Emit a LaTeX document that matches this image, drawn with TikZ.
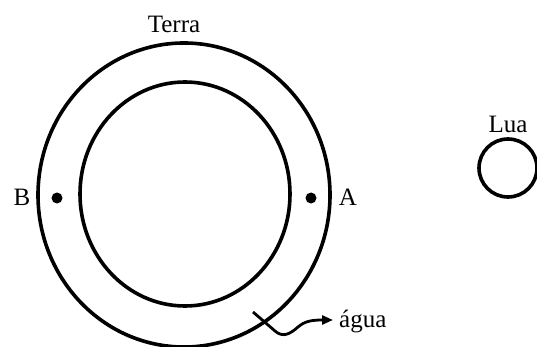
\documentclass[tikz,border=0pt]{standalone}
\usepackage{fontspec}
\setmainfont{Liberation Serif}
\usetikzlibrary{arrows.meta}
\begin{document}
\begin{tikzpicture}[x=1pt,y=-1pt,
  ring/.style={line width=3.6pt},
  lbl/.style={font=\fontsize{25}{29}\selectfont, inner sep=0pt, anchor=base},
  dotmark/.style={fill=black}]
\useasboundingbox (0,0) rectangle (537,347);
\fill[white] (0,0) rectangle (537,347);
% Earth
\draw[ring] (184,195) ellipse [x radius=146, y radius=152];
\draw[ring] (185,194) ellipse [x radius=105, y radius=112];
\fill[dotmark] (57,198) circle (5.5);
\fill[dotmark] (311,198) circle (5.5);
\node[lbl] (terra) at (174,33) {Terra};
\node[lbl] (B) at (22,205) {B};
\node[lbl] (A) at (348,205.5) {A};
% Moon
\draw[ring] (508,168) circle (29);
\node[lbl] (lua) at (508,133) {Lua};
% water arrow
\node[lbl, anchor=base west] (agua) at (339,327) {água};
\coordinate (s) at (253,312);
\coordinate (tip) at (333,320);
\draw[line width=2.8pt, -{Triangle[length=11pt,width=9pt]}]
  (s) -- (275,331) .. controls (283,338) and (290,334) .. (298,327)
  .. controls (305,321) and (312,320) .. (tip);
\end{tikzpicture}
\end{document}
